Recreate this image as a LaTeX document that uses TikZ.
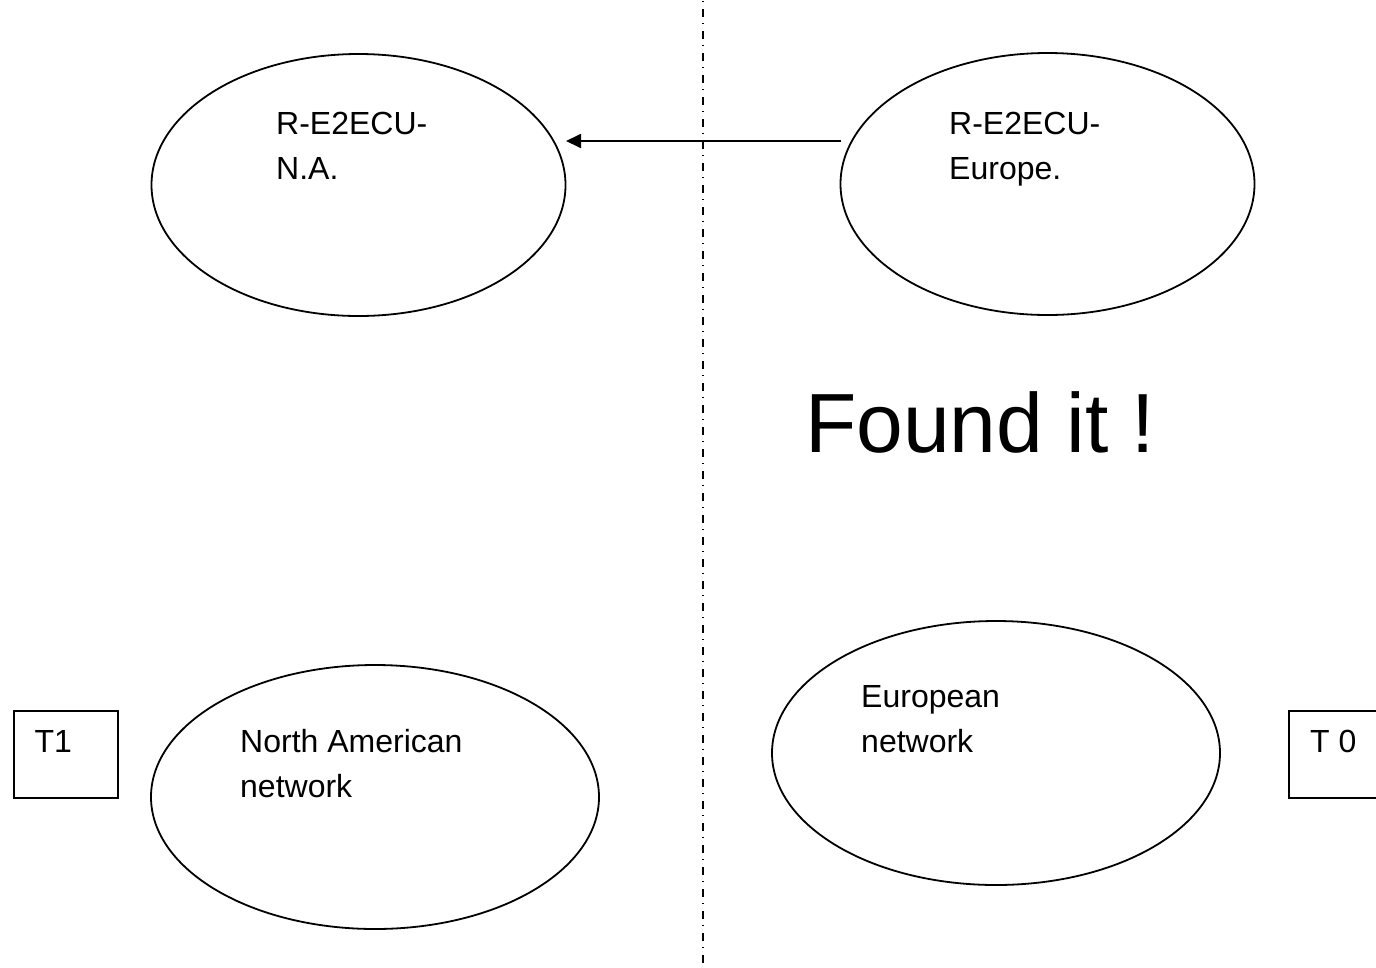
\documentclass[tikz,border=0pt]{standalone}
\usepackage{fontspec}
\setmainfont{Liberation Sans}
\usetikzlibrary{shapes.geometric,arrows.meta}
\tikzset{
  oval/.style={ellipse, draw, line width=1.8pt, inner sep=0pt},
  lbl/.style={anchor=base west, inner sep=0pt, align=left, font=\fontsize{32}{45}\selectfont},
  tbox/.style={draw, line width=2pt, inner sep=0pt, minimum width=103.5pt, minimum height=87pt},
  divider/.style={line width=1.8pt, dash pattern=on 7.4pt off 6.3pt on 1pt off 7.3pt, dash phase=12.7pt},
  link/.style={line width=1.8pt, -{Triangle[length=15pt,width=14pt]}}
}
\begin{document}
\begin{tikzpicture}[x=1pt,y=-1pt]
\useasboundingbox[fill=white] (0,0) rectangle (1376,967);
% divider
\coordinate (dtop) at (703,0);
\coordinate (dbot) at (703,967);
\draw[divider] (dtop) -- (dbot);
% top ellipses
\node[oval, minimum width=414pt, minimum height=262pt] (rna) at (358.5,185) {};
\node[oval, minimum width=414pt, minimum height=262pt] (reu) at (1047.5,184) {};
\node[lbl] (trna) at (276,179.5) {R-E2ECU-\\N.A.};
\node[lbl] (treu) at (949,179.5) {R-E2ECU-\\Europe.};
% arrow
\coordinate (astart) at (841,141);
\coordinate (aend) at (566,141);
\draw[link] (astart) -- (aend);
% found it
\node[anchor=base west, inner sep=0pt, font=\fontsize{84}{90}\selectfont] (found) at (805,452) {Found it !};
% bottom ellipses
\node[oval, minimum width=448pt, minimum height=264pt] (nan) at (375,797) {};
\node[oval, minimum width=448pt, minimum height=264pt] (eun) at (996,753) {};
\node[lbl] (tnan) at (240,797.5) {North American\\network};
\node[lbl] (teun) at (861,752.5) {European\\network};
% boxes
\node[tbox, anchor=north west] (t1) at (13.3,710) {};
\node[lbl] (tt1) at (34.3,752) {T1};
\node[tbox, anchor=north west] (t0) at (1288.3,710) {};
\node[lbl] (tt0) at (1310,752) {T 0};
\end{tikzpicture}
\end{document}
